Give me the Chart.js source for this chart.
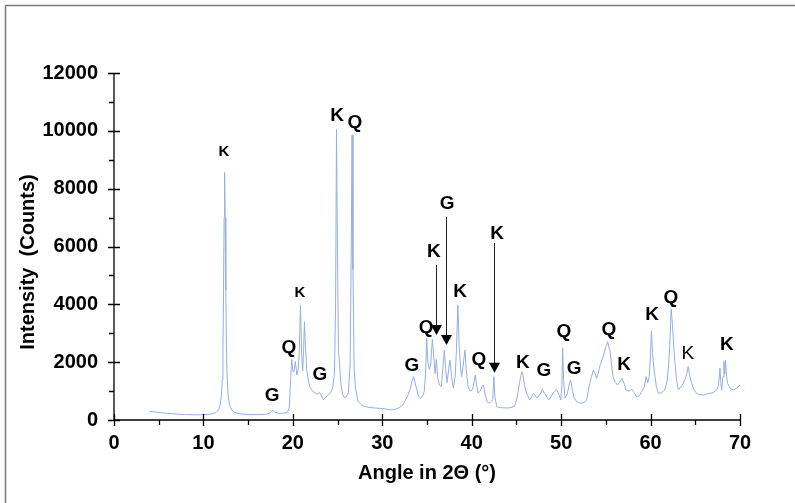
<!DOCTYPE html>
<html>
<head>
<meta charset="utf-8">
<script src="https://cdn.jsdelivr.net/npm/chart.js@4.4.1/dist/chart.umd.min.js"></script>
<style>
  html, body { margin: 0; padding: 0; background: #fff; }
  #wrap { width: 795px; height: 503px; }
</style>
</head>
<body>
<div id="wrap"><canvas id="xrd"></canvas></div>
<script>
// XRD pattern
const angles = [
  4.0, 4.5, 5.0, 5.5, 6.0, 6.5, 7.0, 7.5, 8.0, 8.5, 9.0, 9.5, 10.0, 10.5, 11.0, 11.4, 11.7, 11.9,
  12.0, 12.1, 12.18, 12.25, 12.31, 12.37, 12.43, 12.5, 12.57, 12.65, 12.75, 12.9, 13.1, 13.4, 14.0, 15.0, 16.0, 16.8, 17.4,
  17.75, 18.0, 18.5, 19.0, 19.4, 19.6, 19.75, 19.87, 20.0, 20.1, 20.28, 20.45, 20.6, 20.72, 20.85,
  20.98, 21.1, 21.2, 21.3, 21.4, 21.55, 21.75, 21.9, 22.2, 22.5, 22.75, 22.95, 23.15, 23.4, 23.6,
  23.9, 24.2, 24.45, 24.65, 24.78, 24.88, 24.97, 25.1, 25.2, 25.35, 25.55, 25.75, 25.95, 26.2,
  26.4, 26.52, 26.62, 26.72, 26.85, 27.0, 27.3, 27.7, 28.1, 28.6, 29.2, 29.8, 30.4, 30.9, 31.4,
  31.9, 32.3, 32.6, 32.9, 33.1, 33.3, 33.5, 33.7, 33.85, 34.05, 34.3, 34.5, 34.7, 34.85, 34.96,
  35.1, 35.25, 35.4, 35.6, 35.75, 35.9, 36.05, 36.2, 36.4, 36.6, 36.8, 36.94, 37.1, 37.25, 37.4,
  37.57, 37.75, 37.95, 38.15, 38.3, 38.45, 38.6, 38.75, 38.87, 39.05, 39.25, 39.4, 39.6, 39.85,
  40.1, 40.25, 40.4, 40.55, 40.7, 40.95, 41.15, 41.3, 41.5, 41.7, 41.85, 42.1, 42.35, 42.48, 42.6,
  42.8, 43.2, 43.6, 44.0, 44.4, 44.8, 45.1, 45.35, 45.6, 45.75, 45.9, 46.15, 46.5, 46.9, 47.1,
  47.3, 47.6, 47.9, 48.2, 48.6, 49.1, 49.5, 49.8, 49.95, 50.08, 50.17, 50.27, 50.43, 50.7, 50.9,
  51.07, 51.25, 51.4, 51.7, 52.1, 52.5, 52.85, 53.2, 53.4, 53.6, 53.8, 53.97, 54.15, 54.3, 54.55,
  54.8, 55.0, 55.2, 55.35, 55.46, 55.6, 55.8, 56.05, 56.3, 56.55, 56.8, 57.0, 57.25, 57.6, 57.9,
  58.15, 58.45, 58.75, 59.0, 59.3, 59.5, 59.7, 59.85, 60.0, 60.1, 60.22, 60.4, 60.65, 60.9, 61.25,
  61.6, 61.85, 62.0, 62.15, 62.3, 62.45, 62.6, 62.7, 62.9, 63.1, 63.4, 63.66, 63.9, 64.05, 64.2,
  64.4, 64.6, 64.85, 65.15, 65.5, 65.9, 66.3, 66.65, 67.0, 67.4, 67.6, 67.76, 67.85, 67.95, 68.1,
  68.2, 68.3, 68.37, 68.5, 68.6, 68.9, 69.25, 69.6, 70.0
];
const counts = [
  300, 280, 260, 245, 230, 215, 205, 195, 190, 185, 180, 180, 185, 190, 215, 260, 360, 560,
  800, 1400, 2400, 4500, 7000, 8560, 7000, 4500, 2600, 1500, 900, 550, 380, 270, 215, 190, 185, 190, 230,
  340, 260, 230, 240, 270, 420, 1400, 2100, 1700, 1650, 2020, 1560, 1750, 2400, 3980,
  2300, 1700, 2400, 3400, 2600, 1750, 1350, 1150, 1000, 940, 900, 950, 870, 700, 760,
  850, 930, 1100, 1600, 4000, 10050, 6500, 2400, 2050, 1300, 900, 770, 790, 950,
  1900, 5500, 9850, 5200, 1800, 1100, 640, 520, 460, 430, 415, 400, 380, 350, 360,
  430, 520, 690, 880, 1050, 1320, 1500, 1250, 1050, 820, 760, 820, 1000, 1700, 2820,
  2000, 1750, 1900, 2800, 2200, 1600, 2100, 1450, 1200, 1150, 1900, 2420, 1700, 1300, 1700,
  2075, 1500, 1100, 1500, 2500, 3980, 2600, 1800, 1500, 1900, 2420, 1700, 1150, 1000,
  1050, 1300, 1560, 1200, 930, 1000, 1150, 1210, 900, 650, 590, 600, 700, 1500, 800,
  460, 430, 420, 415, 430, 480, 800, 1300, 1670, 1550, 1200, 920, 690, 920, 850,
  760, 870, 1060, 900, 690, 930, 1040, 850, 690, 1200, 2500, 1400, 760, 900, 1250,
  1383, 1050, 800, 650, 580, 600, 690, 1270, 1500, 1730, 1600, 1440, 1600, 1845, 2050,
  2300, 2550, 2710, 2500, 2420, 2000, 1500, 1300, 1210, 1300, 1440, 1300, 1040, 1000, 1060,
  950, 800, 850, 980, 1150, 1500, 1300, 1500, 2300, 3090, 2300, 1730, 1150, 920, 950,
  1040, 1350, 1845, 2600, 3830, 3300, 2500, 2075, 1400, 1040, 1150, 1270, 1450, 1600, 1845,
  1500, 1270, 1050, 920, 880, 865, 900, 920, 950, 1040, 1200, 1800, 1300, 1040, 1500,
  2020, 1600, 2075, 1500, 1270, 1100, 1040, 1100, 1210
];

// phase labels (K kaolinite, Q quartz, G goethite) at their centre, in data units
const peakLetters = ["K", "G", "Q", "K", "G", "K", "Q", "G", "Q", "K", "G", "K",
  "K", "Q", "K", "G", "Q", "G", "Q", "K", "K", "Q", "K", "K"];
const peakAngles = [12.3, 17.67, 19.57, 20.8, 23.03, 24.94, 26.95, 33.32, 34.89, 35.78, 37.24, 38.69,
  42.83, 40.81, 45.73, 48.08, 50.32, 51.44, 55.35, 57.03, 60.16, 62.28, 64.18, 68.54];
const peakCounts = [9267, 830, 2490, 4392, 1556, 10512, 10270, 1867, 3181, 5809, 7469, 4426,
  6432, 2075, 1971, 1694, 3043, 1764, 3112, 1902, 3631, 4219, 2282, 2594];

// arrows: angle, start count, tip count
const arrowAngles = [36.06, 37.12, 42.52];
const arrowTops = [5360, 7020, 6120];
const arrowTips = [2940, 2590, 1636];

const FONT = "'Liberation Sans', Arial, sans-serif";
const smallLabels = [0, 3];
const plainLabels = [22];

const xrdDecor = {
  id: "xrdDecor",
  afterDraw(chart) {
    const ctx = chart.ctx;
    const x = chart.scales.x, y = chart.scales.y;
    const x0 = x.getPixelForValue(0), y0 = y.getPixelForValue(0);
    ctx.save();

    // outer frame (top and left only)
    ctx.strokeStyle = "#7a7a7a";
    ctx.lineWidth = 1.5;
    ctx.beginPath();
    ctx.moveTo(5.5, 503);
    ctx.lineTo(5.5, 5.5);
    ctx.lineTo(795, 5.5);
    ctx.stroke();

    // axes
    ctx.strokeStyle = "#000";
    ctx.lineWidth = 1.3;
    ctx.beginPath();
    ctx.moveTo(x0, y.getPixelForValue(12000));
    ctx.lineTo(x0, y0);
    ctx.lineTo(x.getPixelForValue(70), y0);
    ctx.stroke();

    ctx.beginPath();
    for (let v = 0; v <= 12000; v += 1000) {
      const py = Math.round(y.getPixelForValue(v)) + 0.5;
      if (v % 2000 === 0) { ctx.moveTo(x0 - 6, py); ctx.lineTo(x0 + 6, py); }
      else { ctx.moveTo(x0 - 5, py); ctx.lineTo(x0, py); }
    }
    for (let a = 0; a <= 70; a += 5) {
      const px = Math.round(x.getPixelForValue(a)) + 0.5;
      if (a % 10 === 0) { ctx.moveTo(px, y0 - 6); ctx.lineTo(px, y0 + 6); }
      else { ctx.moveTo(px, y0); ctx.lineTo(px, y0 + 5); }
    }
    ctx.stroke();

    // y title, drawn by hand so it can sit a little below the middle
    ctx.fillStyle = "#000";
    ctx.font = "bold 20px " + FONT;
    ctx.textAlign = "center";
    ctx.textBaseline = "middle";
    ctx.translate(28, 262);
    ctx.rotate(-Math.PI / 2);
    ctx.fillText("Intensity  (Counts)", 0, 0);
    ctx.setTransform(1, 0, 0, 1, 0, 0);

    // arrows
    ctx.strokeStyle = "#222";
    ctx.lineWidth = 1;
    arrowAngles.forEach((a, i) => {
      const px = Math.round(x.getPixelForValue(a)) + 0.5;
      const top = y.getPixelForValue(arrowTops[i]);
      const tip = y.getPixelForValue(arrowTips[i]);
      ctx.beginPath();
      ctx.moveTo(px, top);
      ctx.lineTo(px, tip - 8);
      ctx.stroke();
      ctx.beginPath();
      ctx.moveTo(px - 5.5, tip - 10);
      ctx.lineTo(px + 5.5, tip - 10);
      ctx.lineTo(px, tip);
      ctx.closePath();
      ctx.fill();
    });

    // phase letters
    peakLetters.forEach((t, i) => {
      let f = "bold 19px " + FONT;
      if (smallLabels.includes(i)) f = "bold 15px " + FONT;
      if (plainLabels.includes(i)) f = "19px " + FONT;
      ctx.font = f;
      ctx.fillText(t, x.getPixelForValue(peakAngles[i]), y.getPixelForValue(peakCounts[i]));
    });
    ctx.restore();
  }
};

const tickFont = { family: FONT, size: 20, weight: "bold" };

new Chart(document.getElementById("xrd"), {
  type: "line",
  data: {
    datasets: [{
      label: "XRD",
      data: angles.map((a, i) => ({ x: a, y: counts[i] })),
      borderColor: "rgb(148, 174, 226)",
      borderWidth: 1,
      pointRadius: 0,
      tension: 0,
      fill: false
    }]
  },
  options: {
    responsive: true,
    maintainAspectRatio: false,
    animation: false,
    layout: { padding: { top: 73, right: 55, left: 0, bottom: 0 } },
    plugins: { legend: { display: false }, tooltip: { enabled: false } },
    scales: {
      x: {
        type: "linear",
        min: 0,
        max: 70,
        ticks: { stepSize: 10, color: "#000", font: tickFont, padding: 11 },
        grid: { display: false, drawTicks: false },
        border: { display: false },
        title: {
          display: true,
          text: "Angle in 2\u0398 (\u00b0)",
          color: "#000",
          font: { family: FONT, size: 20, weight: "bold" },
          padding: { top: 0, bottom: 18 }
        },
        afterFit(s) { s.height = 83; }
      },
      y: {
        min: 0,
        max: 12000,
        ticks: { stepSize: 2000, color: "#000", font: tickFont, padding: 16, callback: v => String(v) },
        grid: { display: false, drawTicks: false },
        border: { display: false },
        afterFit(s) { s.width = 114; }
      }
    }
  },
  plugins: [xrdDecor]
});
</script>
</body>
</html>
